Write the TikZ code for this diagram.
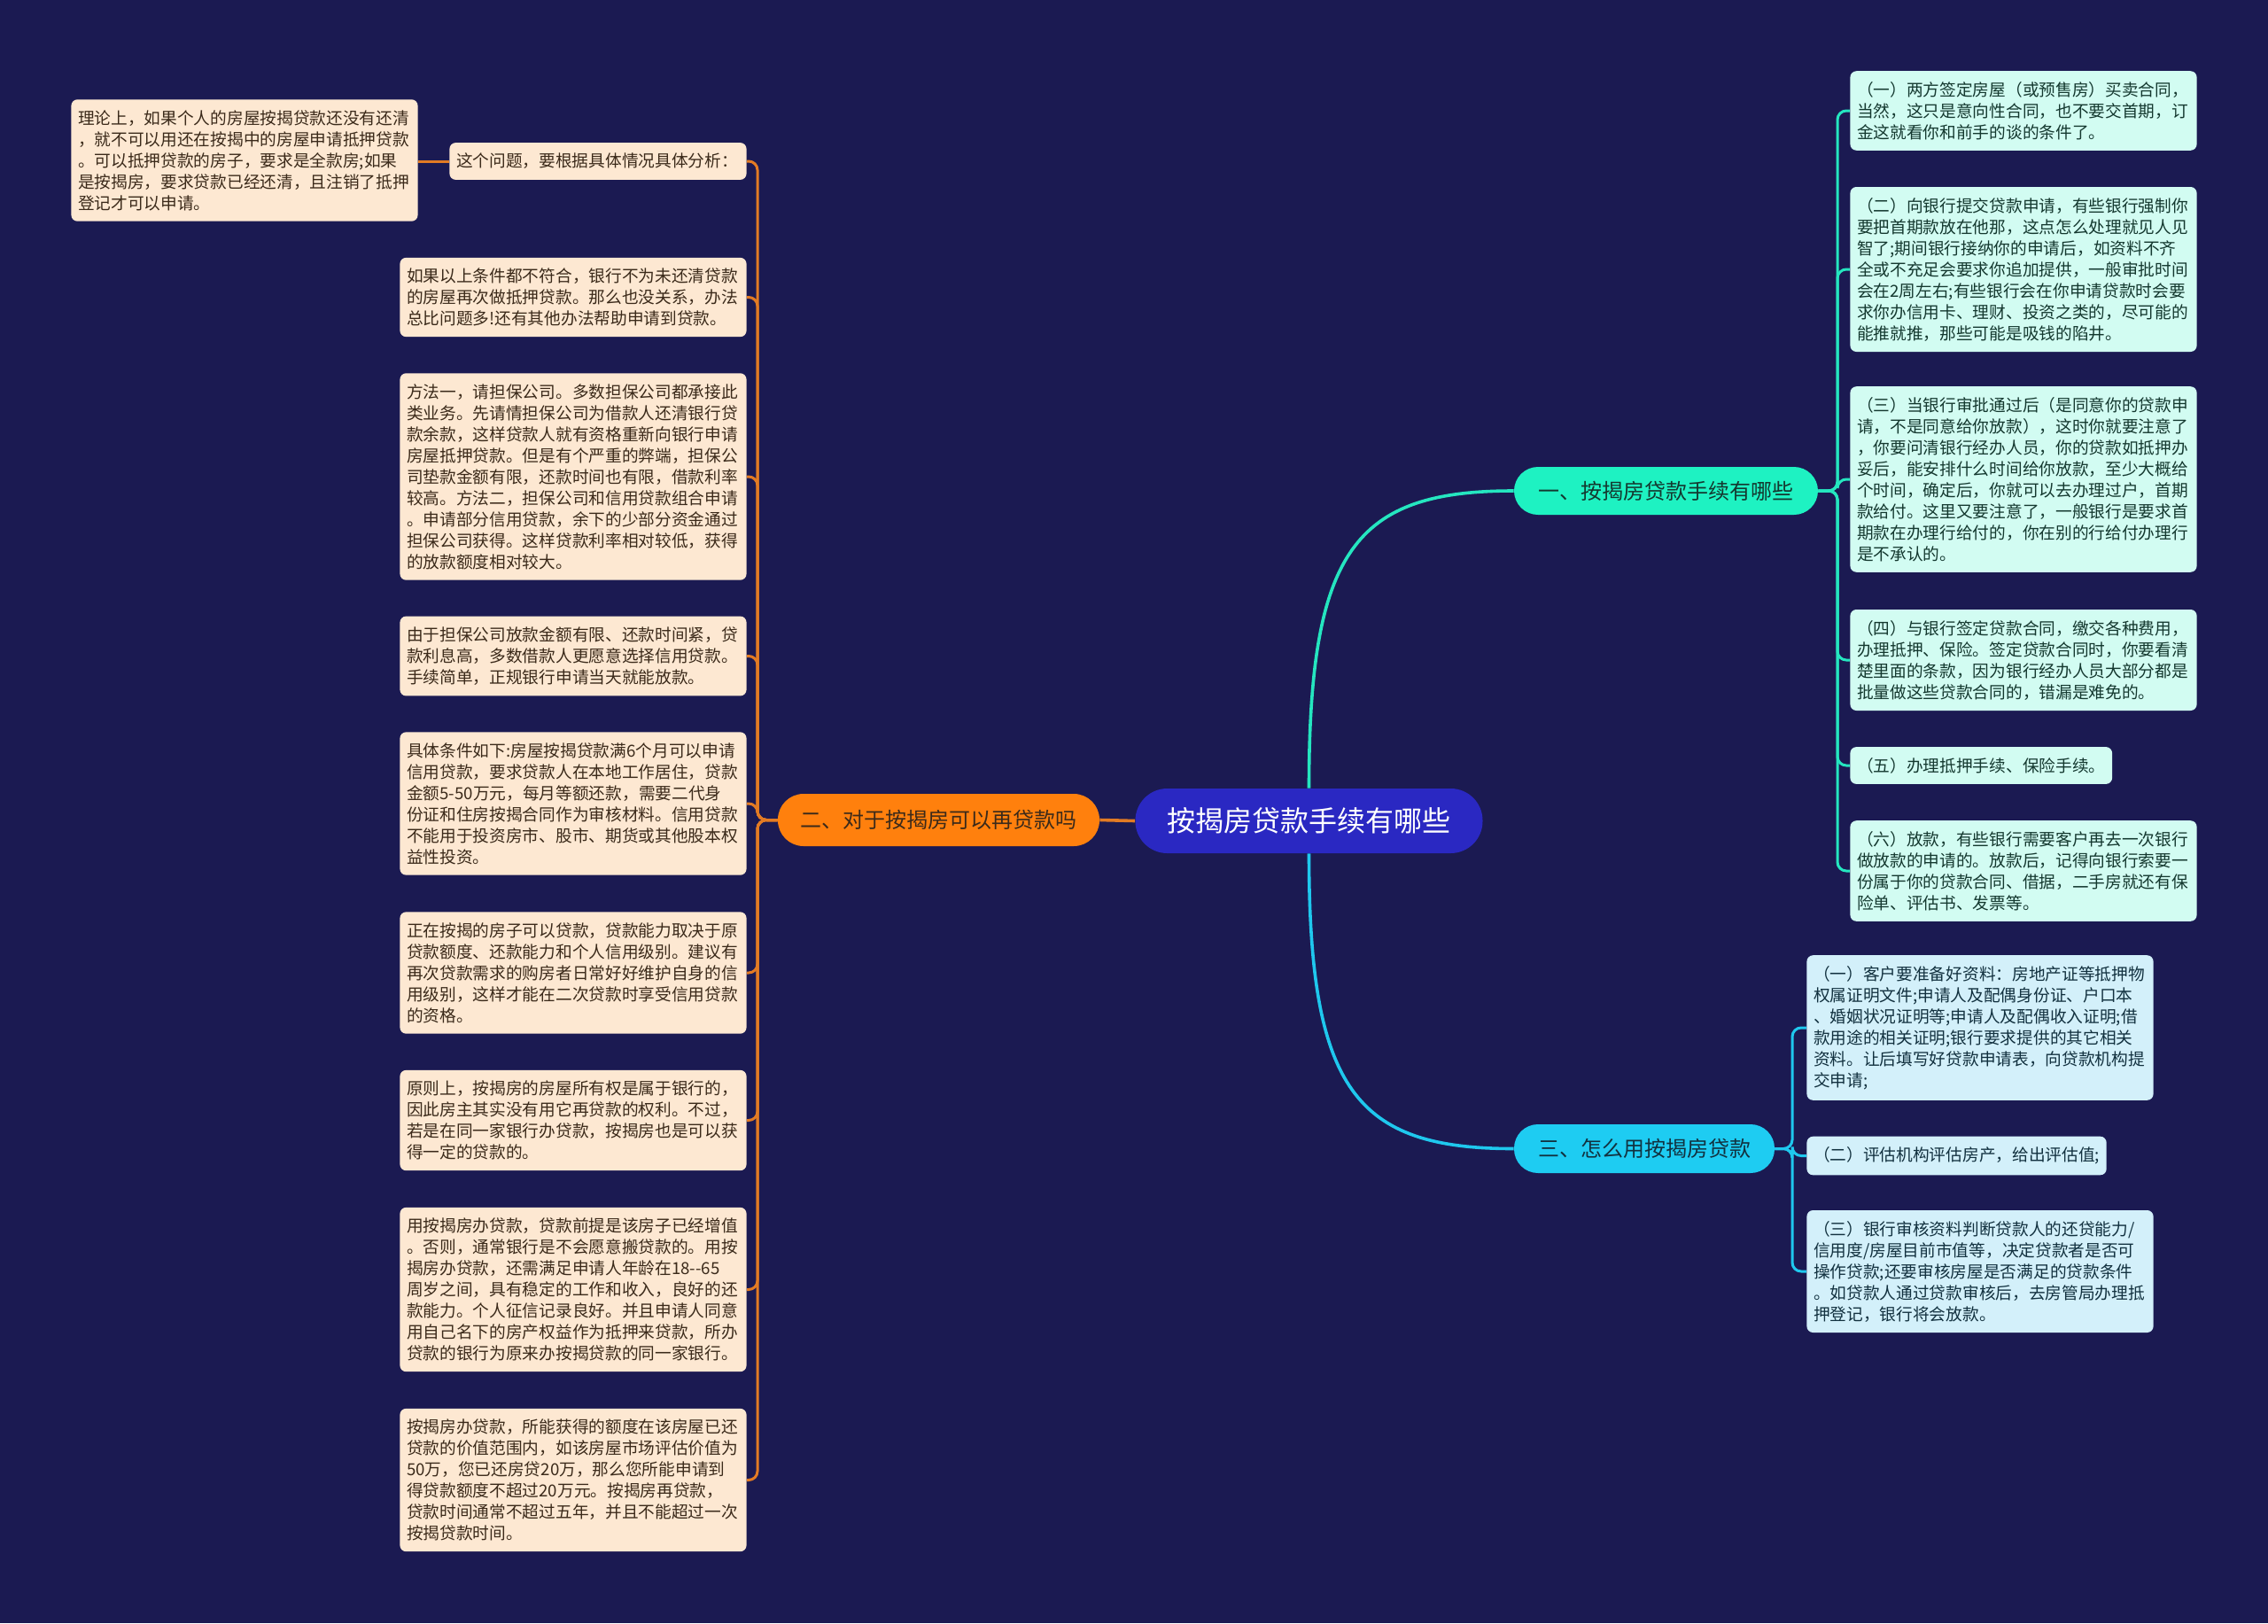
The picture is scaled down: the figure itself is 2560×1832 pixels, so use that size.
\documentclass[tikz,border=0pt]{standalone}
\usepackage{fontspec}
\setmainfont{Noto Sans CJK SC}
\usetikzlibrary{backgrounds}
\definecolor{bgc}{HTML}{1B1A52}
\definecolor{centerc}{HTML}{2A28C2}
\definecolor{aquac}{HTML}{1EF2C2}
\definecolor{orangec}{HTML}{FF800D}
\definecolor{cyanc}{HTML}{1ECCF2}
\definecolor{lfill}{HTML}{FDE8D2}
\definecolor{ltext}{HTML}{3B2A1A}
\definecolor{afill}{HTML}{D2FCF2}
\definecolor{atext}{HTML}{14382F}
\definecolor{cfill}{HTML}{D3F0FA}
\definecolor{ctext}{HTML}{12313F}
\definecolor{lline}{HTML}{E27B24}
\definecolor{aline}{HTML}{25E6C0}
\definecolor{cline}{HTML}{1FC8EE}
\begin{document}
\begin{tikzpicture}[x=0.5pt,y=-0.5pt,
  bodyfont/.style={font=\fontsize{9.35pt}{12pt}\selectfont},
  boxbase/.style={bodyfont, rounded corners=3.5pt, inner xsep=3.8pt, inner ysep=6pt, align=left},
  lbox/.style={boxbase, fill=lfill, text=ltext, text width=188pt, anchor=east},
  lboxs/.style={boxbase, fill=lfill, text=ltext, anchor=east},
  abox/.style={boxbase, fill=afill, text=atext, text width=188pt, anchor=west},
  aboxs/.style={boxbase, fill=afill, text=atext, anchor=west},
  cbox/.style={boxbase, fill=cfill, text=ctext, text width=188pt, anchor=west},
  cboxs/.style={boxbase, fill=cfill, text=ctext, anchor=west},
  topic/.style={font=\fontsize{12pt}{14pt}\selectfont, inner sep=0pt},
  lconn/.style={draw=lline, line width=1.5pt, rounded corners=5pt},
  aconn/.style={draw=aline, line width=1.5pt, rounded corners=5pt},
  cconn/.style={draw=cline, line width=1.5pt, rounded corners=5pt},
]
\useasboundingbox (0,0) rectangle (2560,1832);

% main nodes
\node[fill=centerc, text=white, font=\fontsize{16pt}{18pt}\selectfont, minimum width=196pt, minimum height=36.5pt, rounded corners=18pt, inner sep=0pt] (c) at (1477.5,926.5) {按揭房贷款手续有哪些};
\node[topic, fill=orangec, text=ltext, minimum width=181.5pt, minimum height=29.5pt, rounded corners=14.5pt] (n2) at (1059.5,925.5) {二、对于按揭房可以再贷款吗};
\node[topic, fill=aquac, text=atext, minimum width=171.5pt, minimum height=27pt, rounded corners=13.5pt] (n1) at (1880.5,554) {一、按揭房贷款手续有哪些};
\node[topic, fill=cyanc, text=ctext, minimum width=147pt, minimum height=27.5pt, rounded corners=13.5pt] (n3) at (1856,1296.5) {三、怎么用按揭房贷款};

% left column
\node[lboxs, text width=160pt] (L0) at (843,182) {这个问题，要根据具体情况具体分析：};
\node[lbox] (Lt) at (472,181) {理论上，如果个人的房屋按揭贷款还没有还清\\，就不可以用还在按揭中的房屋申请抵押贷款\\。可以抵押贷款的房子，要求是全款房;如果\\是按揭房，要求贷款已经还清，且注销了抵押\\登记才可以申请。};
\node[lbox] (L2) at (843,335.5) {如果以上条件都不符合，银行不为未还清贷款\\的房屋再次做抵押贷款。那么也没关系，办法\\总比问题多!还有其他办法帮助申请到贷款。};
\node[lbox] (L3) at (843,538) {方法一，请担保公司。多数担保公司都承接此\\类业务。先请情担保公司为借款人还清银行贷\\款余款，这样贷款人就有资格重新向银行申请\\房屋抵押贷款。但是有个严重的弊端，担保公\\司垫款金额有限，还款时间也有限，借款利率\\较高。方法二，担保公司和信用贷款组合申请\\。申请部分信用贷款，余下的少部分资金通过\\担保公司获得。这样贷款利率相对较低，获得\\的放款额度相对较大。};
\node[lbox] (L4) at (843,740.5) {由于担保公司放款金额有限、还款时间紧，贷\\款利息高，多数借款人更愿意选择信用贷款。\\手续简单，正规银行申请当天就能放款。};
\node[lbox] (L5) at (843,907) {具体条件如下:房屋按揭贷款满6个月可以申请\\信用贷款，要求贷款人在本地工作居住，贷款\\金额5-50万元，每月等额还款，需要二代身\\份证和住房按揭合同作为审核材料。信用贷款\\不能用于投资房市、股市、期货或其他股本权\\益性投资。};
\node[lbox] (L6) at (843,1098) {正在按揭的房子可以贷款，贷款能力取决于原\\贷款额度、还款能力和个人信用级别。建议有\\再次贷款需求的购房者日常好好维护自身的信\\用级别，这样才能在二次贷款时享受信用贷款\\的资格。};
\node[lbox] (L7) at (843,1264.5) {原则上，按揭房的房屋所有权是属于银行的，\\因此房主其实没有用它再贷款的权利。不过，\\若是在同一家银行办贷款，按揭房也是可以获\\得一定的贷款的。};
\node[lbox] (L8) at (843,1455.5) {用按揭房办贷款，贷款前提是该房子已经增值\\。否则，通常银行是不会愿意搬贷款的。用按\\揭房办贷款，还需满足申请人年龄在18-{}-65\\周岁之间，具有稳定的工作和收入，良好的还\\款能力。个人征信记录良好。并且申请人同意\\用自己名下的房产权益作为抵押来贷款，所办\\贷款的银行为原来办按揭贷款的同一家银行。};
\node[lbox] (L9) at (843,1670.5) {按揭房办贷款，所能获得的额度在该房屋已还\\贷款的价值范围内，如该房屋市场评估价值为\\50万，您已还房贷20万，那么您所能申请到\\得贷款额度不超过20万元。按揭房再贷款，\\贷款时间通常不超过五年，并且不能超过一次\\按揭贷款时间。};

% right column (branch 1)
\node[abox] (R1) at (2088,125) {（一）两方签定房屋（或预售房）买卖合同，\\当然，这只是意向性合同，也不要交首期，订\\金这就看你和前手的谈的条件了。};
\node[abox] (R2) at (2088,304) {（二）向银行提交贷款申请，有些银行强制你\\要把首期款放在他那，这点怎么处理就见人见\\智了;期间银行接纳你的申请后，如资料不齐\\全或不充足会要求你追加提供，一般审批时间\\会在2周左右;有些银行会在你申请贷款时会要\\求你办信用卡、理财、投资之类的，尽可能的\\能推就推，那些可能是吸钱的陷井。};
\node[abox] (R3) at (2088,541) {（三）当银行审批通过后（是同意你的贷款申\\请，不是同意给你放款），这时你就要注意了\\，你要问清银行经办人员，你的贷款如抵押办\\妥后，能安排什么时间给你放款，至少大概给\\个时间，确定后，你就可以去办理过户，首期\\款给付。这里又要注意了，一般银行是要求首\\期款在办理行给付的，你在别的行给付办理行\\是不承认的。};
\node[abox] (R4) at (2088,745) {（四）与银行签定贷款合同，缴交各种费用，\\办理抵押、保险。签定贷款合同时，你要看清\\楚里面的条款，因为银行经办人员大部分都是\\批量做这些贷款合同的，错漏是难免的。};
\node[aboxs] (R5) at (2088,864) {（五）办理抵押手续、保险手续。};
\node[abox] (R6) at (2088,983) {（六）放款，有些银行需要客户再去一次银行\\做放款的申请的。放款后，记得向银行索要一\\份属于你的贷款合同、借据，二手房就还有保\\险单、评估书、发票等。};

% right column (branch 3)
\node[cbox] (T1) at (2039,1160) {（一）客户要准备好资料：房地产证等抵押物\\权属证明文件;申请人及配偶身份证、户口本\\、婚姻状况证明等;申请人及配偶收入证明;借\\款用途的相关证明;银行要求提供的其它相关\\资料。让后填写好贷款申请表，向贷款机构提\\交申请;};
\node[cboxs] (T2) at (2039,1304.5) {（二）评估机构评估房产，给出评估值;};
\node[cbox] (T3) at (2039,1435) {（三）银行审核资料判断贷款人的还贷能力/\\信用度/房屋目前市值等，决定贷款者是否可\\操作贷款;还要审核房屋是否满足的贷款条件\\。如贷款人通过贷款审核后，去房管局办理抵\\押登记，银行将会放款。};

\begin{pgfonlayer}{background}
\fill[bgc] (0,0) rectangle (2560,1832);
% main connectors
\draw[lline, line width=1.8pt] (c.west) -- (n2.east);
\draw[aline, line width=1.8pt] (c.north) .. controls (1477.5,620) and (1530,554) .. (n1.west);
\draw[cline, line width=1.8pt] (c.south) .. controls (1477.5,1230) and (1530,1296.5) .. (n3.west);
% left connectors
\foreach \b in {L0,L2,L3,L4,L5,L6,L7,L8,L9}
  \draw[lconn] (n2.west) -- (855,925.5) |- (\b.east);
\draw[lline, line width=1.5pt] (L0.west) -- (L0.west -| Lt.east);
% branch 1 connectors
\foreach \b in {R1,R2,R3,R4,R5,R6}
  \draw[aconn] (n1.east) -- (2074,554) |- (\b.west);
% branch 3 connectors
\foreach \b in {T1,T2,T3}
  \draw[cconn] (n3.east) -- (2023,1296.5) |- (\b.west);
\end{pgfonlayer}
\end{tikzpicture}
\end{document}
